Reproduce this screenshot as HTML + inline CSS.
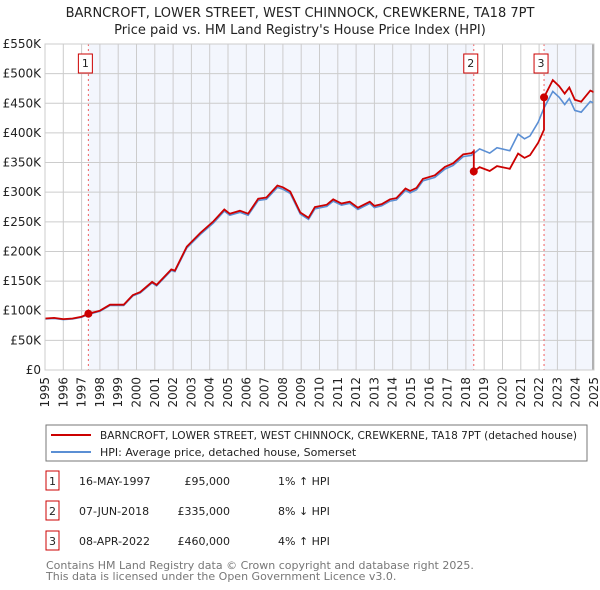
<!DOCTYPE html>
<html><head><meta charset="utf-8"><style>
body{margin:0;background:#fff;}
svg{display:block;font-family:"DejaVu Sans","Liberation Sans",sans-serif;}
</style></head><body>
<svg id="chart" width="600" height="590" viewBox="0 0 600 590">
<text x="300" y="17" text-anchor="middle" font-size="13" fill="#222">BARNCROFT, LOWER STREET, WEST CHINNOCK, CREWKERNE, TA18 7PT</text>
<text x="300" y="34" text-anchor="middle" font-size="13" fill="#222">Price paid vs. HM Land Registry's House Price Index (HPI)</text>
<g id="plot"></g>
<g>
<rect x="46" y="425" width="541" height="36" fill="#fff" stroke="#777"/>
<line x1="51" y1="435" x2="91" y2="435" stroke="#cc0000" stroke-width="2"/>
<text x="100" y="439" font-size="11" fill="#222" textLength="477" lengthAdjust="spacingAndGlyphs">BARNCROFT, LOWER STREET, WEST CHINNOCK, CREWKERNE, TA18 7PT (detached house)</text>
<line x1="51" y1="452" x2="91" y2="452" stroke="#5b8fd4" stroke-width="2"/>
<text x="100" y="456" font-size="11" fill="#222">HPI: Average price, detached house, Somerset</text>
</g>
<g id="table" font-size="11" fill="#222"></g>
<text x="46" y="569" font-size="11" fill="#777">Contains HM Land Registry data © Crown copyright and database right 2025.</text>
<text x="46" y="580" font-size="11" fill="#777">This data is licensed under the Open Government Licence v3.0.</text>
</svg>
<script>
const hpiYears=[1995,1995.5,1996,1996.5,1997,1997.37,1998,1998.55,1999.3,1999.8,2000.2,2000.85,2001.1,2001.9,2002.1,2002.75,2003.5,2004.2,2004.8,2005.1,2005.65,2006.1,2006.65,2007.1,2007.7,2008,2008.4,2008.95,2009.4,2009.75,2010.4,2010.75,2011.2,2011.65,2012.1,2012.75,2013,2013.4,2013.85,2014.2,2014.7,2014.95,2015.3,2015.65,2016.3,2016.85,2017.3,2017.85,2018.3,2018.75,2019.3,2019.7,2020.4,2020.85,2021.2,2021.5,2021.95,2022.27,2022.75,2023.1,2023.4,2023.65,2023.95,2024.3,2024.8,2024.95];
const hpiValues=[86,87,85,86,89,94,99,109,109,125,130,147,142,168,166,206,229,248,268,261,266,261,286,288,308,305,298,263,254,272,276,285,278,281,271,281,274,277,285,287,303,299,304,319,325,339,345,360,362,373,366,375,370,398,390,395,418,442,470,460,448,458,438,435,453,451];
const saleYears=[1997.37,2018.43,2022.27];
const salePrices=[95,335,460];
const saleLabels=["1","2","3"];
const saleDates=["16-MAY-1997","07-JUN-2018","08-APR-2022"];
const salePriceText=["£95,000","£335,000","£460,000"];
const saleDiffText=["1% ↑ HPI","8% ↓ HPI","4% ↑ HPI"];
const yTicks=[0,50,100,150,200,250,300,350,400,450,500,550];
const yTickLabels=["£0","£50K","£100K","£150K","£200K","£250K","£300K","£350K","£400K","£450K","£500K","£550K"];
const xTicks=[1995,1996,1997,1998,1999,2000,2001,2002,2003,2004,2005,2006,2007,2008,2009,2010,2011,2012,2013,2014,2015,2016,2017,2018,2019,2020,2021,2022,2023,2024,2025];

const NS="http://www.w3.org/2000/svg";
const X0=45,X1=594,Y0=370,Y1=44;
const xs=y=>X0+(y-1995)/30*(X1-X0);
const ys=v=>Y0-v/550*(Y0-Y1);
const plot=document.getElementById('plot');
function mk(tag,attrs,parent){const e=document.createElementNS(NS,tag);for(const k in attrs)e.setAttribute(k,attrs[k]);(parent||plot).appendChild(e);return e;}
function hpiAt(y){for(let i=1;i<hpiYears.length;i++){if(y<=hpiYears[i]){const t=(y-hpiYears[i-1])/(hpiYears[i]-hpiYears[i-1]);return hpiValues[i-1]+t*(hpiValues[i]-hpiValues[i-1]);}}return hpiValues[hpiValues.length-1];}

const bandEdges=[...saleYears,2025];
for(let i=0;i<bandEdges.length-1;i+=2){
  const b=mk('rect',{x:xs(bandEdges[i]),y:Y1,width:xs(bandEdges[i+1])-xs(bandEdges[i]),height:Y0-Y1,fill:'#f3f6fd'});
  
  
}
yTicks.forEach((t,i)=>{
  const l=mk('line',{x1:X0,x2:X1,y1:ys(t),y2:ys(t),stroke:'#ccc','stroke-width':1});
  
  
  const tx=mk('text',{x:X0-4,y:ys(t)+4,'text-anchor':'end','font-size':12,fill:'#222'});
  tx.textContent=yTickLabels[i];
  
  
});
xTicks.forEach(t=>{
  const l=mk('line',{x1:xs(t),x2:xs(t),y1:Y1,y2:Y0,stroke:'#ccc','stroke-width':1});
  
  
  const tx=mk('text',{x:0,y:0,'text-anchor':'end','font-size':12,fill:'#222',transform:`translate(${xs(t)+4},377) rotate(-90)`});
  tx.textContent=t;
  
  
});
mk('line',{x1:X1-1,x2:X1-1,y1:Y1,y2:Y0,stroke:'#999','stroke-width':1.5});
saleYears.forEach(s=>{
  const l=mk('line',{x1:xs(s),x2:xs(s),y1:Y1,y2:Y0,stroke:'#f06060','stroke-width':1,'stroke-dasharray':'2,3'});
  
  
});
const hp=mk('path',{d:hpiYears.map((y,i)=>(i?'L':'M')+xs(y).toFixed(1)+','+ys(hpiValues[i]).toFixed(1)).join(''),fill:'none',stroke:'#5b8fd4','stroke-width':1.6});


let pts=[];
for(let s=0;s<saleYears.length;s++){
  const start=saleYears[s], end=s+1<saleYears.length?saleYears[s+1]:2025;
  const ratio=salePrices[s]/hpiAt(start);
  const yrs=[start,...hpiYears.filter(y=>y>start&&y<end),end];
  if(s===0){[1995,...hpiYears.filter(y=>y>1995&&y<start)].forEach(y=>pts.push([y,hpiAt(y)*ratio]));}
  yrs.forEach((y,k)=>{ if(s>0&&k===0){pts.push([y,pts[pts.length-1][1]]);} pts.push([y,hpiAt(y)*ratio]); });
}
const pp=mk('path',{d:pts.map((p,i)=>(i?'L':'M')+xs(p[0]).toFixed(1)+','+ys(p[1]).toFixed(1)).join(''),fill:'none',stroke:'#cc0000','stroke-width':1.8});


saleYears.forEach((s,i)=>{
  const c=mk('circle',{cx:xs(s),cy:ys(salePrices[i]),r:4,fill:'#cc0000'});
  
  
  const g=mk('g',{});
  
  
  mk('rect',{x:xs(s)-10,y:54,width:14,height:19,fill:'#fff',stroke:'#cc0000'},g);
  const t=mk('text',{x:xs(s)-3,y:67,'text-anchor':'middle','font-size':11,fill:'#222'},g);
  t.textContent=saleLabels[i];
});
mk('rect',{x:X0,y:Y1,width:X1-X0,height:Y0-Y1,fill:'none',stroke:'#ccc'});
const tb=document.getElementById('table');
saleYears.forEach((s,i)=>{
  const y=483+i*30;
  const r=mk('rect',{x:46,y:y-12,width:13,height:19,fill:'#fff',stroke:'#cc0000'},tb);
  
  
  const cells=[[52.5,saleLabels[i],'middle'],[79,saleDates[i],'start'],[230,salePriceText[i],'end'],[278,saleDiffText[i],'start']];
  cells.forEach(c=>{const t=mk('text',{x:c[0],y:y+2,'text-anchor':c[2]},tb);t.textContent=c[1];
    
    });
});
</script>
</body></html>
